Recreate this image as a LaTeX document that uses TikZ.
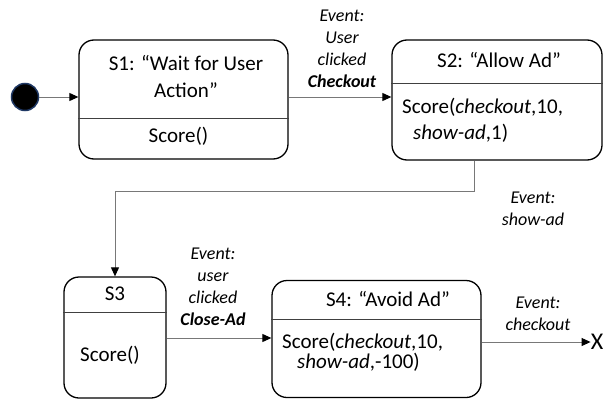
\documentclass[tikz,border=0pt]{standalone}
\usepackage{fontspec}
\setmainfont{Carlito}
\usetikzlibrary{arrows.meta}
\definecolor{conngray}{RGB}{120,120,120}
\definecolor{initblue}{RGB}{31,56,100}
\tikzset{
  statebox/.style={draw=black, line width=1.3pt, rounded corners=15pt, inner sep=0pt},
  divider/.style={draw=black!75, line width=1pt},
  conn/.style={draw=conngray, line width=1pt, -{Triangle[length=9pt,width=8pt,color=black]}},
  main/.style={font=\fontsize{21}{27}\selectfont, inner sep=0pt},
  ev/.style={font=\fontsize{18}{22}\selectfont\itshape, align=center, inner sep=0pt},
}
\begin{document}
\begin{tikzpicture}[x=1pt,y=-1pt]
\useasboundingbox (0,0) rectangle (611,399);
% initial state
\node[circle, fill=black, draw=initblue, line width=1.5pt, minimum size=27pt, inner sep=0pt] (init) at (25,97) {};
% state boxes
\node[statebox, minimum width=209pt, minimum height=119pt] (S1) at (183.5,99.5) {};
\node[statebox, minimum width=210pt, minimum height=120pt] (S2) at (497,100) {};
\node[statebox, minimum width=102pt, minimum height=121pt] (S3) at (115,337.5) {};
\node[statebox, minimum width=209pt, minimum height=117pt] (S4) at (376.5,339) {};
% dividers
\draw[divider] (S1.west |- 0,118) -- (S1.east |- 0,118);
\draw[divider] (S2.west |- 0,83) -- (S2.east |- 0,83);
\draw[divider] (S3.west |- 0,312) -- (S3.east |- 0,312);
\draw[divider] (S4.west |- 0,319) -- (S4.east |- 0,319);
% texts in boxes
\node[main, align=center] (t1) at (186,76.5) {S1: “Wait for User\\Action”};
\node[main] (s1) at (178.5,136) {Score()};
\node[main] (t2) at (499,60) {S2: “Allow Ad”};
\node[main, anchor=west] (s2a) at (402,107) {Score(\textit{checkout},10,};
\node[main, anchor=west] (s2b) at (413,133) {\textit{show-ad},1)};
\node[main] (t3) at (115,294) {S3};
\node[main] (s3) at (110,355) {Score()};
\node[main] (t4) at (388,299) {S4: “Avoid Ad”};
\node[main, anchor=west] (s4a) at (282,342) {Score(\textit{checkout},10,};
\node[main, anchor=west] (s4b) at (297,362) {\textit{show-ad},-100)};
% end mark
\node[main, font=\fontsize{24}{28}\selectfont] (X) at (597,342) {X};
% event labels
\node[ev] (e1) at (342,48.5) {Event:\\User\\clicked\\\textbf{Checkout}};
\node[ev] (e2) at (533,208.5) {Event:\\show-ad};
\node[ev] (e3) at (213,287) {Event:\\user\\clicked\\\textbf{Close-Ad}};
\node[ev] (e4) at (538,313.5) {Event:\\checkout};
% connectors
\draw[conn] (init) -- (init -| S1.west);
\draw[conn] (S1.east |- 0,97) -- (S2.west |- 0,97);
\coordinate (bend) at (474,191);
\draw[conn] (S2.south -| bend) -- (bend) -| (S3.north);
\draw[conn] (S3.east |- 0,338) -- (S4.west |- 0,338);
\draw[conn] (S4.east |- 0,342) -- (X.west);
\end{tikzpicture}
\end{document}
